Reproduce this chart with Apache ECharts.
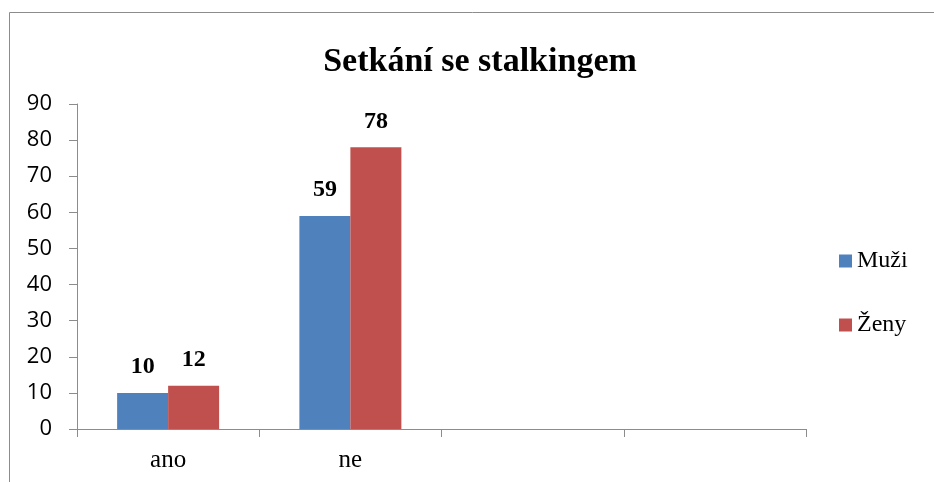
<!DOCTYPE html>
<html><head><meta charset="utf-8">
<script src="https://cdn.jsdelivr.net/npm/echarts@6/dist/echarts.min.js"></script>
<style>html,body{margin:0;padding:0;background:#fff}#c{width:934px;height:482px}</style>
</head><body><div id="c"></div>
<script>
const categories = ['ano', 'ne', '', ''];
const muzi = [10, 59, null, null];
const zeny = [12, 78, null, null];
const seriesNames = ['Muži', 'Ženy'];
const titleText = 'Setkání se stalkingem';

const chart = echarts.init(document.getElementById('c'));
const labelStyle = {show: true, position: 'top', distance: 14, fontFamily: 'Liberation Serif', fontWeight: 'bold', fontSize: 24, color: '#000'};
chart.setOption({
  animation: false,
  graphic: [{type: 'rect', shape: {x: 9.5, y: 12.5, width: 1000, height: 1000}, style: {fill: 'none', stroke: '#8c8c8c', lineWidth: 1}, z: -1}],
  title: {text: titleText, left: 475, textAlign: 'center', top: 40,
    textStyle: {fontFamily: 'Liberation Serif', fontWeight: 'bold', fontSize: 34, color: '#000'}},
  legend: {orient: 'vertical', left: 839, top: 249, padding: 0, itemWidth: 13, itemHeight: 13, itemGap: 40, icon: 'rect',
    textStyle: {fontFamily: 'Liberation Serif', fontSize: 24, lineHeight: 24, color: '#000'},
    data: seriesNames},
  grid: {left: 77, right: 128, top: 104, bottom: 53, containLabel: false},
  xAxis: {type: 'category', data: categories,
    axisLine: {lineStyle: {color: '#8c8c8c', width: 1}},
    axisTick: {show: true, alignWithLabel: false, length: 8, lineStyle: {color: '#8c8c8c'}},
    axisLabel: {fontFamily: 'Liberation Serif', fontSize: 25, color: '#000', margin: 19}},
  yAxis: {type: 'value', min: 0, max: 90, interval: 10,
    axisLine: {show: true, lineStyle: {color: '#8c8c8c', width: 1}},
    axisTick: {show: true, length: 8, lineStyle: {color: '#8c8c8c'}},
    splitLine: {show: false},
    axisLabel: {fontFamily: 'Open Sans', fontSize: 22, color: '#000', margin: 25}},
  series: [
    {name: seriesNames[0], type: 'bar', data: muzi, barWidth: 51, barGap: '0%', itemStyle: {color: '#4F81BD'}, label: labelStyle},
    {name: seriesNames[1], type: 'bar', data: zeny, barWidth: 51, barGap: '0%', itemStyle: {color: '#C0504D'}, label: labelStyle}
  ]
});
</script></body></html>
